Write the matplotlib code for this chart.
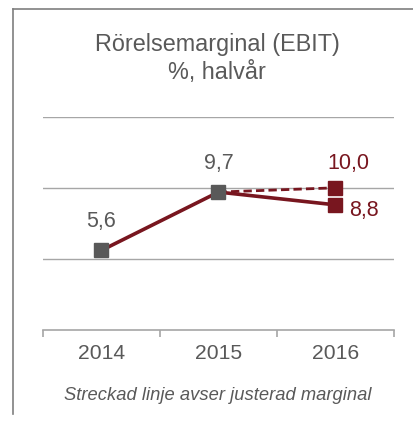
import matplotlib
matplotlib.use("Agg")
import matplotlib.pyplot as plt
from matplotlib.lines import Line2D

years = ["2014", "2015", "2016"]
reported = [5.6, 9.7, 8.8]
adjusted_2015_2016 = [9.7, 10.0]
value_labels = ["5,6", "9,7", "8,8"]
adjusted_label = "10,0"
title_lines = ["Rörelsemarginal (EBIT)", "%, halvår"]
footnote = "Streckad linje avser justerad marginal"
gridvals = [5, 10, 15]

GRAY = "#595959"
RED = "#78161F"
GRID = "#A6A6A6"

plt.rcParams['font.family'] = ['Liberation Sans', 'DejaVu Sans']

W, H = 414, 421
fig = plt.figure(figsize=(W / 100, H / 100), dpi=100)
fig.patch.set_facecolor("white")

ax = fig.add_axes([43 / W, (H - 330) / H, 351 / W, (330 - 116.7) / H])
ax.set_xlim(0, 3)
ax.set_ylim(0, 15)
for sp in ["top", "right", "left"]:
    ax.spines[sp].set_visible(False)
ax.spines["bottom"].set_color(GRID)
ax.spines["bottom"].set_linewidth(1.2)
ax.set_yticks([])
for g in gridvals:
    ax.axhline(g, color=GRID, lw=1.0, zorder=1)

ax.set_xticks([0, 1, 2, 3])
ax.set_xticklabels([])
ax.tick_params(axis="x", which="major", length=5, color=GRID, width=1.2, direction="out")
xs = [0.5, 1.5, 2.5]
ax.set_xticks(xs, minor=True)
ax.set_xticklabels(years, minor=True, fontsize=15.2, color=GRAY)
ax.tick_params(axis="x", which="minor", length=0, pad=10)

# lines
ax.plot(xs[1:], adjusted_2015_2016, color=RED, lw=2.0, ls=(0, (3.0, 1.5)), zorder=3)
ax.plot(xs, reported, color=RED, lw=2.6, zorder=3, solid_capstyle="butt")
# markers
ax.plot(xs[:2], reported[:2], ls="none", marker="s", ms=9.6, color=GRAY, zorder=4)
ax.plot([xs[2]], [reported[2]], ls="none", marker="s", ms=9.6, color=RED, zorder=4)
ax.plot([xs[2]], [adjusted_2015_2016[1]], ls="none", marker="s", ms=9.6, color=RED, zorder=4)

# value labels
fs_val = 15.5
ax.annotate(value_labels[0], (xs[0], reported[0]), xytext=(0, 29), textcoords="offset pixels",
            ha="center", va="center", fontsize=fs_val, color=GRAY)
ax.annotate(value_labels[1], (xs[1], reported[1]), xytext=(0, 29), textcoords="offset pixels",
            ha="center", va="center", fontsize=fs_val, color=GRAY)
ax.annotate(adjusted_label, (xs[2], adjusted_2015_2016[1]), xytext=(13, 24), textcoords="offset pixels",
            ha="center", va="center", fontsize=fs_val, color=RED)
ax.annotate(value_labels[2], (xs[2], reported[2]), xytext=(28, -6), textcoords="offset pixels",
            ha="center", va="center", fontsize=fs_val, color=RED)

# titles
fig.text(217 / W, 1 - 44 / H, title_lines[0], ha="center", va="center", fontsize=16.8, color=GRAY)
fig.text(217 / W, 1 - 73 / H, title_lines[1], ha="center", va="center", fontsize=16.8, color=GRAY)
fig.text(218 / W, 1 - 395 / H, footnote, ha="center", va="center", fontsize=13.2,
         color=GRAY, style="italic")

# frame lines (top and left)
fig.add_artist(Line2D([13 / W, 1.0], [1 - 8.5 / H, 1 - 8.5 / H], transform=fig.transFigure,
                      color="#7F7F7F", lw=1.2))
fig.add_artist(Line2D([13 / W, 13 / W], [1 - 8.5 / H, 1 - 414 / H], transform=fig.transFigure,
                      color="#7F7F7F", lw=1.2))

fig.savefig("out.png", dpi=100)
